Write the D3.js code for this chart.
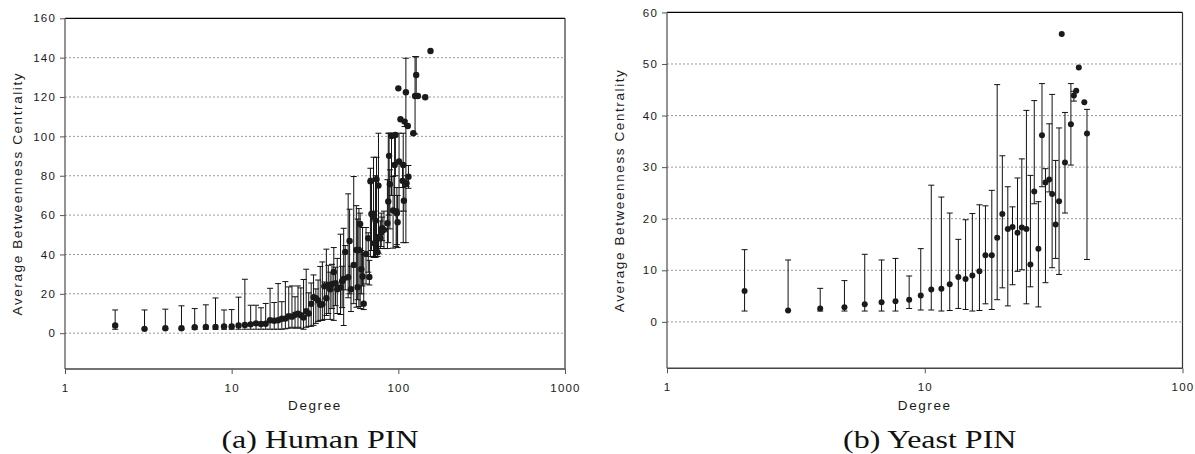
<!DOCTYPE html>
<html>
<head>
<meta charset="utf-8">
<script src="https://cdn.jsdelivr.net/npm/d3@7"></script>
<style>
  body { margin: 0; background: #fff; }
  svg { display: block; }
  .tick-label { font-family: 'Liberation Sans', Arial, sans-serif; font-size: 11.5px; letter-spacing: 1.2px; fill: #1a1a1a; }
  .axis-title { font-family: 'Liberation Sans', Arial, sans-serif; font-size: 13.5px; letter-spacing: 1.6px; fill: #1a1a1a; }
  .caption { font-family: 'Liberation Serif', 'Times New Roman', serif; font-size: 25px; fill: #111; }
</style>
</head>
<body>
<svg id="fig" width="1195" height="454"></svg>
<script>
'use strict'

// (a) Human PIN
const humanDegree = [2, 3, 4, 5, 6, 7, 8, 9, 10, 11, 12, 13, 14, 15, 16, 17, 18, 19, 20, 21,
  22, 23, 24, 25, 26, 27, 28, 29, 30, 31, 32, 33, 34, 35, 36, 37, 38, 39, 40, 41,
  42, 43, 45, 46, 47, 48, 50, 51, 52, 54, 56, 57, 58, 59, 60, 61, 62, 64, 66, 67,
  68, 69, 71, 72, 73, 74, 75, 76, 78, 79, 80, 82, 86, 87, 88, 89, 91, 93, 95, 96,
  97, 98, 99, 100, 101, 103, 106, 107, 108, 109, 111, 112, 114, 115, 123, 126, 128, 131, 145, 156];
const humanMean = [3.9, 2.2, 2.5, 2.5, 3.0, 3.2, 3.2, 3.4, 3.4, 3.9, 4.2, 4.5, 5.0, 4.7, 4.8, 6.6, 6.3, 6.6, 7.3, 7.4,
  8.6, 8.4, 9.4, 9.9, 9.1, 8.0, 11.2, 10.0, 14.9, 18.3, 17.8, 16.6, 14.4, 14.7, 23.9, 17.8, 24.5, 22.3, 25.0, 31.1,
  25.4, 22.3, 23.2, 26.4, 27.6, 41.3, 28.4, 46.9, 22.3, 34.7, 42.3, 23.4, 42.3, 55.5, 32.5, 28.8, 15.0, 40.3, 48.2, 28.6,
  77.2, 60.6, 59.2, 45.7, 57.2, 78.2, 41.1, 75.0, 48.2, 51.3, 53.3, 52.5, 55.9, 66.9, 90.1, 75.7, 100.2, 62.3, 85.5, 100.7,
  61.8, 60.9, 56.4, 124.4, 87.2, 108.7, 77.4, 85.5, 67.3, 107.5, 122.4, 76.2, 105.3, 79.5, 101.6, 120.5, 131.2, 120.5, 119.9, 143.4];
const humanLow = [2.0, 2.0, 2.0, 2.0, 2.0, 2.0, 2.0, 2.0, 2.0, 2.0, 2.0, 2.0, 2.0, 2.0, 2.0, 2.0, 2.0, 2.0, 2.0, 2.2,
  2.5, 3.0, 2.5, 3.0, 2.5, 2.0, 3.0, 3.5, 3.5, 4.0, 5.0, 6.0, 6.5, 6.5, 7.0, 9.0, 10.0, 7.0, 12.5, 6.5,
  14.0, 10.0, 9.5, 13.0, 3.9, 22.0, 18.0, 20.0, 11.0, 15.0, 13.2, 17.0, 13.5, 12.5, 20.0, 24.0, 12.0, 25.0, 31.0, 24.5,
  39.0, 42.0, 38.5, 39.0, 38.5, 40.0, 39.0, 40.6, 43.0, 44.0, 47.0, 43.0, 43.0, 46.0, 60.0, 53.0, 70.0, 43.2, 62.0, 80.0,
  44.0, 45.0, 43.5, null, 62.0, null, 74.0, 46.0, 62.0, 105.0, 46.0, 74.5, null, 73.6, 101.2, 101.2, 120.5, null, null, null];
const humanHigh = [11.8, 11.8, 12.2, 13.9, 12.5, 14.4, 17.9, 11.8, 12.0, 18.3, 27.4, 14.2, 14.2, 12.9, 15.1, 22.8, 15.6, 25.2, 16.0, 26.2,
  23.5, 24.0, 18.5, 24.0, 23.0, 27.3, 32.5, 20.5, 25.5, 29.6, 22.5, 27.0, 33.9, 36.2, 26.0, 42.7, 34.5, 31.0, 35.0, 43.5,
  33.5, 38.0, 50.3, 34.0, 53.3, 44.5, 70.8, 63.0, 34.0, 79.6, 64.8, 58.0, 63.3, 61.0, 42.0, 53.7, 40.0, 53.7, 51.0, 37.0,
  83.8, 78.7, 89.4, 62.0, 80.0, 89.4, 50.0, 101.6, 57.0, 61.0, 59.0, 62.0, 78.0, 101.6, 101.6, 83.0, 101.6, 79.6, 101.6, 101.0,
  63.0, 74.0, 70.0, null, 101.6, null, 86.0, 101.6, 77.0, 108.0, 139.7, 80.0, null, 85.2, 101.6, 140.5, 140.5, null, null, null];

// (b) Yeast PIN
const yeastDegree = [2.0, 2.95, 3.93, 4.88, 5.85, 6.8, 7.7, 8.7, 9.65, 10.6, 11.6, 12.5, 13.5, 14.4, 15.3, 16.3, 17.2, 18.2, 19.1, 20.0,
  21.0, 21.9, 22.9, 23.8, 24.8, 25.7, 26.6, 27.6, 28.5, 29.4, 30.4, 31.2, 32.2, 33.2, 34.0, 35.0, 36.9, 37.9, 38.7, 39.6, 41.6, 42.6];
const yeastMean = [6.0, 2.2, 2.6, 2.85, 3.4, 3.8, 4.0, 4.3, 5.1, 6.3, 6.4, 7.3, 8.7, 8.3, 9.0, 9.8, 12.9, 12.9, 16.3, 20.9,
  18.0, 18.4, 17.3, 18.3, 18.0, 11.1, 25.3, 14.2, 36.2, 27.0, 27.6, 24.8, 18.9, 23.4, 55.8, 30.9, 38.3, 43.9, 44.8, 49.3, 42.6, 36.5];
const yeastLow = [2.1, 2.2, 2.1, 2.1, 2.1, 2.1, 2.1, 2.6, 2.3, 2.3, 2.1, 2.2, 2.6, 2.4, 2.1, 2.2, 3.5, 2.4, 4.3, 6.6,
  3.1, 7.2, 9.8, 10.1, 3.5, 6.8, 22.9, 2.9, 26.2, 7.6, 25.2, 10.5, 12.3, 9.2, null, 21.1, 30.4, 42.8, null, null, null, 12.1];
const yeastHigh = [14.0, 12.0, 6.5, 8.0, 13.1, 12.0, 12.3, 8.9, 14.2, 26.5, 24.2, 21.1, 16.0, 19.8, 21.0, 22.7, 22.5, 25.5, 46.0, 32.2,
  26.2, 22.3, 27.9, 31.6, 41.0, 28.4, 42.9, 23.3, 46.2, 29.7, 38.4, 44.1, 31.3, 37.6, null, 40.6, 46.2, 44.7, null, null, null, 41.2];

const humanYTicks = [0, 20, 40, 60, 80, 100, 120, 140, 160];
const humanXTicks = [1, 10, 100, 1000];
const yeastYTicks = [0, 10, 20, 30, 40, 50, 60];
const yeastXTicks = [1, 10, 100];


class ErrorPlot {
  constructor({left, right, top, bottom, xMax, yMin, yMax, xTicks, yTicks, caption, dot}) {
    this._x = d3.scaleLog().domain([1, xMax]).range([left, right]);
    this._y = d3.scaleLinear().domain([yMin, yMax]).range([bottom, top]);
    this._xTicks = xTicks;
    this._yTicks = yTicks;
    this._caption = caption;
    this._dot = dot;
  }

  render(svg, degree, mean, low, high) {
    let x = this._x;
    let y = this._y;
    let [x0, x1] = x.range();
    let [y0, y1] = y.range();
    let yMax = y.domain()[1];
    let cx = (x0 + x1) / 2;
    let g = svg.append('g');

    // Dotted grid lines
    (g.selectAll('whatever')
        .data(this._yTicks.filter((t) => t < yMax))
      .enter()
        .append('line')
          .attr('x1', x0).attr('x2', x1)
          .attr('y1', (d) => y(d)).attr('y2', (d) => y(d))
          .attr('stroke', '#9a9a9a')
          .attr('stroke-dasharray', '2,2')
    );

    // Frame
    g.append('line').attr('x1', x0).attr('x2', x1).attr('y1', y1).attr('y2', y1)
      .attr('stroke', '#000').attr('stroke-width', 1.2);
    g.append('line').attr('x1', x1).attr('x2', x1).attr('y1', y1).attr('y2', y0)
      .attr('stroke', '#333').attr('stroke-width', 1.2);

    // Axes
    let yAxis = (d3.axisLeft(y)
      .tickValues(this._yTicks)
      .tickSize(5)
      .tickPadding(4)
      .tickFormat(d3.format('d')));
    let ya = g.append('g').attr('transform', `translate(${x0},0)`).call(yAxis);
    ya.select('.domain').attr('stroke', '#666').attr('stroke-width', 1.4).attr('d', `M0,${y0}V${y1}`);
    ya.selectAll('.tick line').attr('stroke', '#555');
    ya.selectAll('.tick text').attr('class', 'tick-label');
    ya.attr('font-size', null).attr('font-family', null);

    let xAxis = (d3.axisBottom(x)
      .tickValues(this._xTicks)
      .tickSize(5)
      .tickPadding(10)
      .tickFormat(d3.format('d')));
    let xa = g.append('g').attr('transform', `translate(0,${y0})`).call(xAxis);
    xa.select('.domain').attr('stroke', '#444').attr('stroke-width', 1.4).attr('d', `M${x0},0H${x1}`);
    xa.selectAll('.tick line').attr('stroke', '#555');
    xa.selectAll('.tick text').attr('class', 'tick-label');
    xa.attr('font-size', null).attr('font-family', null);

    // Error bars
    let rows = degree.map((d, i) => ({d: d, m: mean[i], lo: low[i], hi: high[i]}));
    let bars = rows.filter((r) => r.lo != null && r.hi != null);
    (g.selectAll('whatever')
        .data(bars)
      .enter()
        .append('line')
          .attr('x1', (r) => x(r.d)).attr('x2', (r) => x(r.d))
          .attr('y1', (r) => y(r.lo)).attr('y2', (r) => y(r.hi))
          .attr('stroke', '#111')
    );
    for (let key of ['lo', 'hi']) {
      (g.selectAll('whatever')
          .data(bars)
        .enter()
          .append('line')
            .attr('x1', (r) => x(r.d) - 3).attr('x2', (r) => x(r.d) + 3)
            .attr('y1', (r) => y(r[key])).attr('y2', (r) => y(r[key]))
            .attr('stroke', '#111')
      );
    }

    // Points
    (g.selectAll('whatever')
        .data(rows)
      .enter()
        .append('circle')
          .attr('cx', (r) => x(r.d))
          .attr('cy', (r) => y(r.m))
          .attr('r', this._dot)
          .attr('fill', '#1a1a1a')
    );

    // Titles
    (g.append('text')
      .attr('class', 'axis-title')
      .attr('text-anchor', 'middle')
      .attr('x', cx)
      .attr('y', 410)
      .text('Degree'));
    (g.append('text')
      .attr('class', 'axis-title')
      .attr('text-anchor', 'middle')
      .attr('dominant-baseline', 'central')
      .attr('transform', `translate(${x0 - 48},${(y0 + y1) / 2}) rotate(-90)`)
      .text('Average Betweenness Centrality'));
    (g.append('text')
      .attr('class', 'caption')
      .attr('text-anchor', 'middle')
      .attr('transform', `translate(${cx + 5},448) scale(1.28,1)`)
      .text(this._caption));
  }
}


let svg = d3.select('#fig');
svg.append('rect').attr('width', 1195).attr('height', 454).attr('fill', '#fff');

new ErrorPlot({left: 65, right: 565, top: 18.3, bottom: 369, xMax: 1000,
               yMin: -18.2, yMax: 160, xTicks: humanXTicks, yTicks: humanYTicks,
               caption: '(a) Human PIN', dot: 3.2})
  .render(svg, humanDegree, humanMean, humanLow, humanHigh);

new ErrorPlot({left: 667, right: 1182.5, top: 12.4, bottom: 368.3, xMax: 100,
               yMin: -9, yMax: 60, xTicks: yeastXTicks, yTicks: yeastYTicks,
               caption: '(b) Yeast PIN', dot: 3.0})
  .render(svg, yeastDegree, yeastMean, yeastLow, yeastHigh);
</script>
</body>
</html>
